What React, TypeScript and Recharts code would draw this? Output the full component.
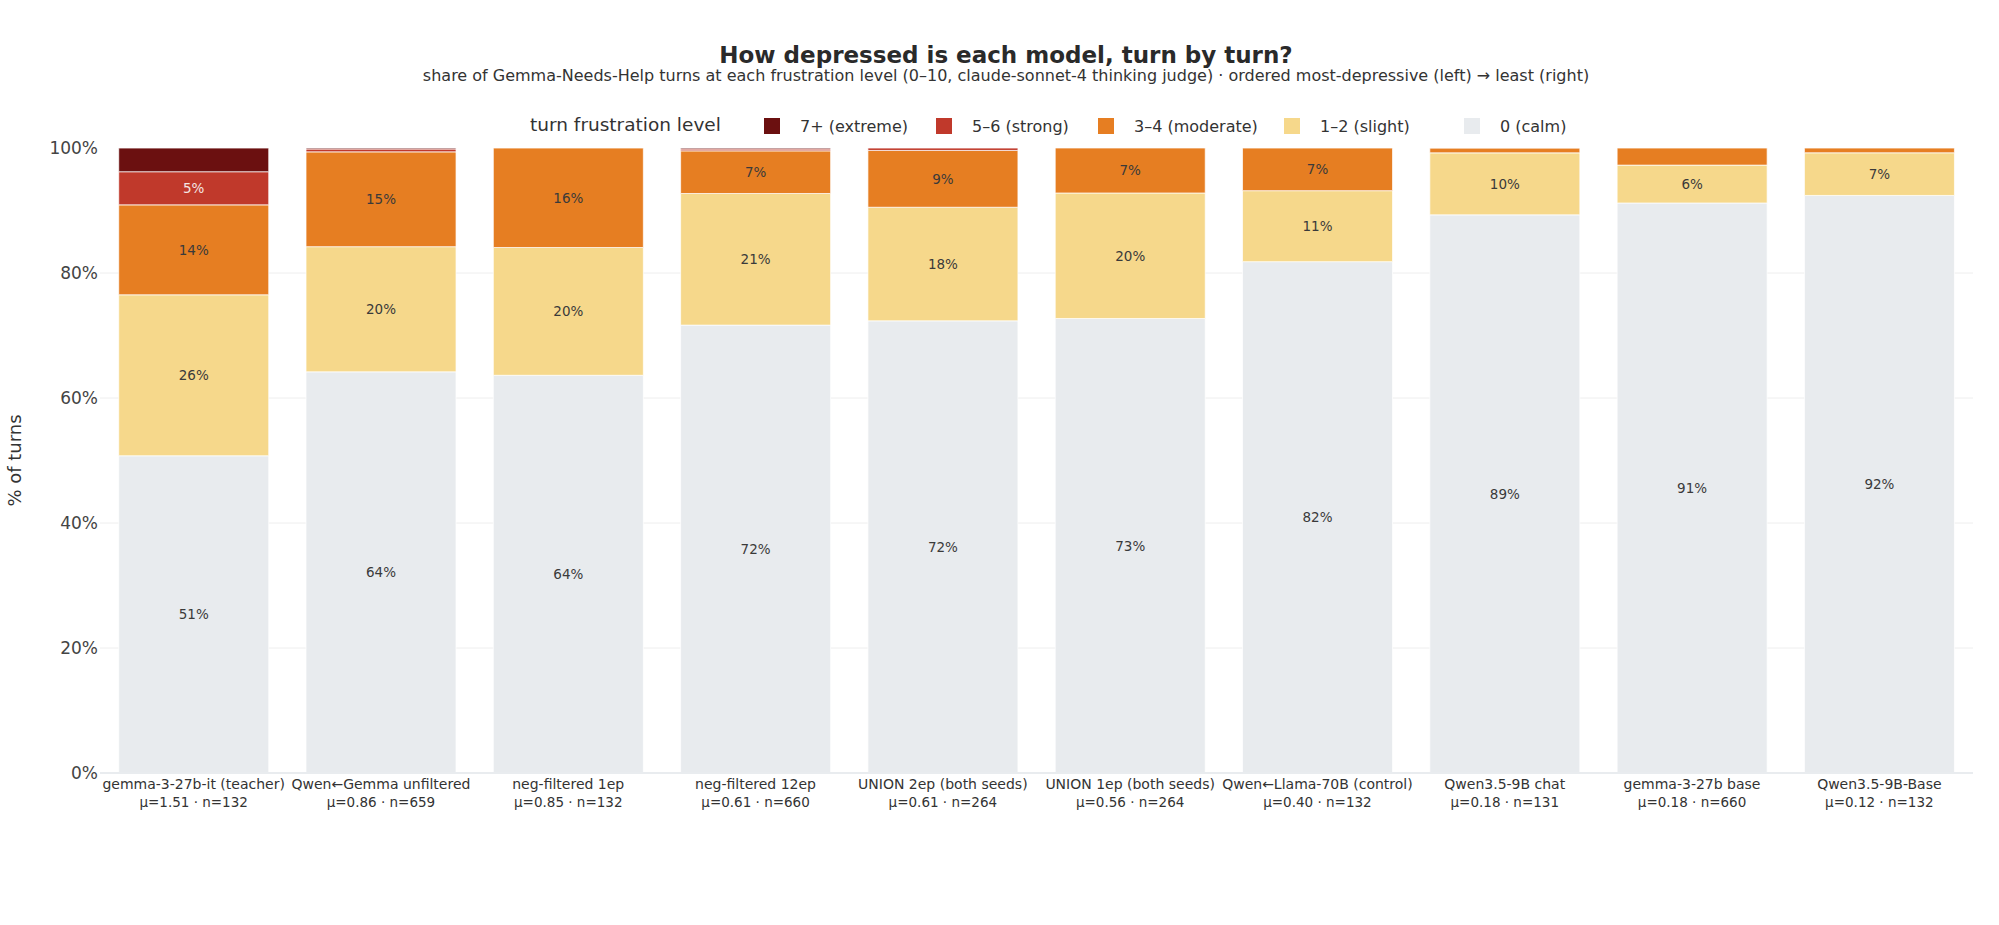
import React from 'react';
import { Bar, BarChart, CartesianGrid, LabelList, XAxis, YAxis } from 'recharts';

// models, ordered most-depressive (left) -> least (right)
const categories = [
  'gemma-3-27b-it (teacher)',
  'Qwen←Gemma unfiltered',
  'neg-filtered 1ep',
  'neg-filtered 12ep',
  'UNION 2ep (both seeds)',
  'UNION 1ep (both seeds)',
  'Qwen←Llama-70B (control)',
  'Qwen3.5-9B chat',
  'gemma-3-27b base',
  'Qwen3.5-9B-Base',
];

const stats = [
  'μ=1.51 · n=132',
  'μ=0.86 · n=659',
  'μ=0.85 · n=132',
  'μ=0.61 · n=660',
  'μ=0.61 · n=264',
  'μ=0.56 · n=264',
  'μ=0.40 · n=132',
  'μ=0.18 · n=131',
  'μ=0.18 · n=660',
  'μ=0.12 · n=132',
];

// share of turns (%) per frustration level
const calm = [50.76, 64.19, 63.64, 71.67, 72.35, 72.73, 81.82, 89.31, 91.21, 92.42];
const slight = [25.76, 20.03, 20.45, 21.06, 18.18, 20.08, 11.36, 9.92, 6.06, 6.82];
const moderate = [14.39, 15.17, 15.91, 6.82, 9.09, 7.2, 6.82, 0.76, 2.73, 0.76];
const strong = [5.3, 0.46, 0, 0.3, 0.38, 0, 0, 0, 0, 0];
const extreme = [3.79, 0.15, 0, 0.15, 0, 0, 0, 0, 0, 0];

const yTicks = [0, 20, 40, 60, 80, 100];

const series = [
  { key: 'calm', label: '0 (calm)', color: '#e8ebee', text: '#3a3a3a' },
  { key: 'slight', label: '1–2 (slight)', color: '#f6d88b', text: '#3a3a3a' },
  { key: 'moderate', label: '3–4 (moderate)', color: '#e67e22', text: '#3a3a3a' },
  { key: 'strong', label: '5–6 (strong)', color: '#c0392b', text: '#f4e6e4' },
  { key: 'extreme', label: '7+ (extreme)', color: '#6b1010', text: '#f4e6e4' },
];

const FONT = '"DejaVu Sans", Verdana, sans-serif';

const data = categories.map((name, i) => ({
  name,
  stat: stats[i],
  calm: calm[i],
  slight: slight[i],
  moderate: moderate[i],
  strong: strong[i],
  extreme: extreme[i],
}));

// legend order like the original (extreme first)
const legendItems = [...series].reverse();
const legendLeft = [764, 936, 1098, 1284, 1464];

function TwoLineTick(props: any) {
  const { x, y, payload, index } = props;
  return (
    <g>
      <text x={x} y={y + 16} textAnchor="middle" fontSize={14} fill="#333" fontFamily={FONT}>
        {payload?.value}
      </text>
      <text x={x} y={y + 34} textAnchor="middle" fontSize={13.5} fill="#333" fontFamily={FONT}>
        {stats[index] ?? ''}
      </text>
    </g>
  );
}

function YTitle(props: any) {
  const vb = props?.viewBox ?? {};
  const cy = Number(vb.y ?? 148) + Number(vb.height ?? 625) / 2;
  return (
    <text
      x={21}
      y={cy}
      transform={`rotate(-90, 21, ${cy})`}
      textAnchor="middle"
      fontSize={18}
      fill="#333"
      fontFamily={FONT}
    >
      % of turns
    </text>
  );
}

function segmentLabel(textColor: string) {
  return (props: any) => {
    const v = Number(props?.value);
    if (!Number.isFinite(v) || v < 5) return null;
    const x = Number(props.x) + Number(props.width) / 2;
    const y = Number(props.y) + Number(props.height) / 2;
    return (
      <text
        x={x}
        y={y}
        dy={5}
        textAnchor="middle"
        fontSize={13.5}
        fill={textColor}
        fontFamily={FONT}
      >
        {`${Math.round(v)}%`}
      </text>
    );
  };
}

export default function App() {
  return (
    <div
      style={{
        position: 'absolute',
        left: 0,
        top: 0,
        width: 1999,
        height: 925,
        background: '#fff',
        fontFamily: FONT,
      }}
    >
      <div
        style={{
          position: 'absolute',
          top: 41,
          left: 0,
          width: 2012,
          textAlign: 'center',
          fontSize: 23,
          fontWeight: 'bold',
          color: '#2a2a2a',
          lineHeight: '28px',
        }}
      >
        How depressed is each model, turn by turn?
      </div>
      <div
        style={{
          position: 'absolute',
          top: 66,
          left: 0,
          width: 2012,
          textAlign: 'center',
          fontSize: 16,
          color: '#333',
          lineHeight: '20px',
        }}
      >
        share of Gemma-Needs-Help turns at each frustration level (0–10, claude-sonnet-4 thinking judge) · ordered
        most-depressive (left) → least (right)
      </div>

      <div
        style={{
          position: 'absolute',
          top: 113,
          left: 530,
          fontSize: 18.5,
          color: '#333',
          lineHeight: '24px',
        }}
      >
        turn frustration level
      </div>
      {legendItems.map((s, i) => (
        <div
          key={s.key}
          style={{
            position: 'absolute',
            top: 116,
            left: legendLeft[i],
            display: 'flex',
            alignItems: 'center',
            height: 20,
            fontSize: 16,
            color: '#333',
          }}
        >
          <span style={{ display: 'inline-block', width: 16, height: 16, background: s.color, marginRight: 20 }} />
          <span>{s.label}</span>
        </div>
      ))}

      <BarChart
        width={1999}
        height={925}
        data={data}
        margin={{ top: 148, right: 26, bottom: 112, left: 0 }}
        barCategoryGap="10%"
        style={{ position: 'absolute', left: 0, top: 0 }}
      >
        <CartesianGrid vertical={false} stroke="#eeeeee" strokeWidth={1} horizontalValues={[20, 40, 60, 80]} />
        <XAxis
          dataKey="name"
          interval={0}
          height={40}
          tickLine={false}
          tickSize={0}
          tickMargin={0}
          axisLine={{ stroke: '#e9ecef', strokeWidth: 2 }}
          tick={<TwoLineTick />}
        />
        <YAxis
          domain={[0, 100]}
          ticks={yTicks}
          width={100}
          axisLine={false}
          tickLine={false}
          tickSize={0}
          tickMargin={2}
          tickFormatter={(v: number) => `${v}%`}
          tick={{ fill: '#444', fontSize: 17, fontFamily: FONT }}
          label={<YTitle />}
        />
        {series.map((s) => (
          <Bar
            key={s.key}
            dataKey={s.key}
            stackId="a"
            fill={s.color}
            stroke="#ffffff"
            strokeWidth={1}
            strokeOpacity={0.7}
            isAnimationActive={false}
          >
            <LabelList dataKey={s.key} content={segmentLabel(s.text)} />
          </Bar>
        ))}
      </BarChart>
    </div>
  );
}
